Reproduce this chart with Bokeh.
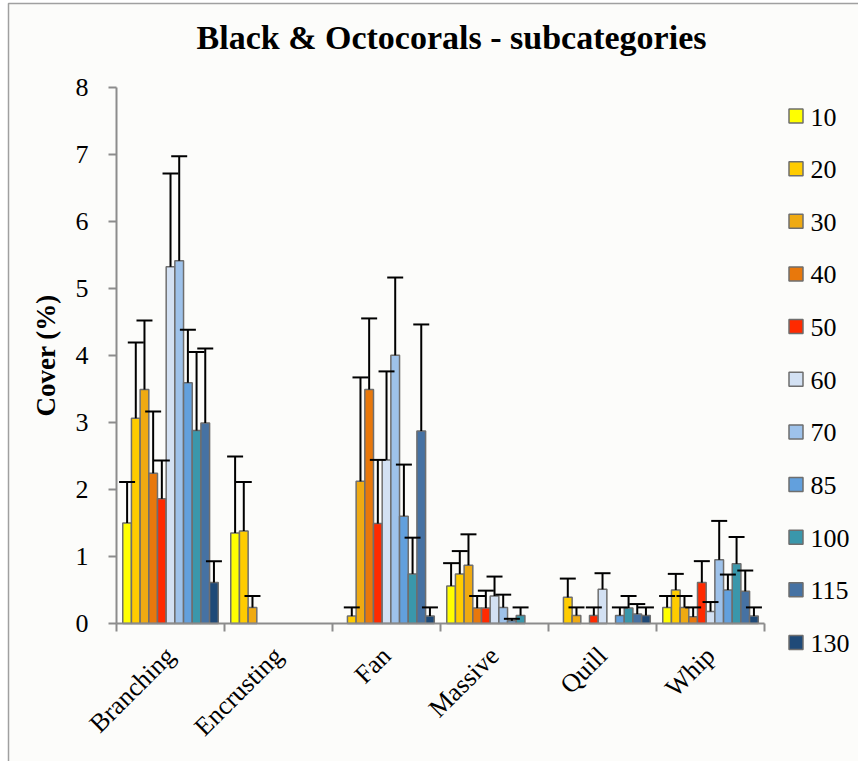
from bokeh.plotting import figure
from bokeh.models import Range1d, FixedTicker, ColumnDataSource, LinearAxis
from bokeh.core.properties import value
from bokeh.embed import file_html
from bokeh.resources import INLINE
from math import pi

# ---------------- data ----------------
categories = ["Branching", "Encrusting", "Fan", "Massive", "Quill", "Whip"]
depths = ["10", "20", "30", "40", "50", "60", "70", "85", "100", "115", "130"]

cover_10 = [1.50, 1.35, 0.00, 0.56, 0.00, 0.24]
cover_20 = [3.06, 1.38, 0.11, 0.74, 0.39, 0.50]
cover_30 = [3.49, 0.24, 2.12, 0.87, 0.12, 0.24]
cover_40 = [2.24, 0.00, 3.49, 0.23, 0.00, 0.10]
cover_50 = [1.86, 0.00, 1.49, 0.23, 0.12, 0.61]
cover_60 = [5.32, 0.00, 2.44, 0.41, 0.51, 0.18]
cover_70 = [5.41, 0.00, 4.00, 0.24, 0.00, 0.95]
cover_85 = [3.59, 0.00, 1.60, 0.04, 0.12, 0.50]
cover_100 = [2.88, 0.00, 0.74, 0.12, 0.23, 0.89]
cover_115 = [2.99, 0.00, 2.87, 0.00, 0.14, 0.48]
cover_130 = [0.61, 0.00, 0.11, 0.00, 0.12, 0.11]

err_10 = [0.61, 1.14, 0.00, 0.34, 0.00, 0.17]
err_20 = [1.13, 0.73, 0.13, 0.34, 0.28, 0.24]
err_30 = [1.03, 0.17, 1.55, 0.46, 0.12, 0.17]
err_40 = [0.92, 0.00, 1.06, 0.18, 0.00, 0.14]
err_50 = [0.57, 0.00, 0.95, 0.26, 0.12, 0.32]
err_60 = [1.39, 0.00, 1.32, 0.29, 0.24, 0.14]
err_70 = [1.56, 0.00, 1.16, 0.19, 0.00, 0.58]
err_85 = [0.79, 0.00, 0.77, 0.03, 0.12, 0.23]
err_100 = [1.17, 0.00, 0.54, 0.12, 0.18, 0.40]
err_115 = [1.11, 0.00, 1.59, 0.00, 0.15, 0.31]
err_130 = [0.32, 0.00, 0.13, 0.00, 0.12, 0.13]

colors = ["#FFFF00", "#FFCC00", "#EFAA12", "#E8780C", "#FF2A00", "#D3E1F3",
          "#9EC2EA", "#62A0DD", "#3A97AB", "#4672A3", "#1F4A78"]

y_ticks = [0, 1, 2, 3, 4, 5, 6, 7, 8]
title_text = "Black & Octocorals - subcategories"
y_label = "Cover (%)"

means = [cover_10, cover_20, cover_30, cover_40, cover_50, cover_60,
         cover_70, cover_85, cover_100, cover_115, cover_130]
errs = [err_10, err_20, err_30, err_40, err_50, err_60,
        err_70, err_85, err_100, err_115, err_130]

SERIF = "Liberation Serif"
OUTLINE = "#6e6e6e"
AXIS_COL = "#8c8c8c"

# ---------------- page geometry (pixels) ----------------
W, H = 858, 761
X0_PX, PX_PER_X = 116.0, 108.0      # x=0 position, pixels per category
Y0_PX, PX_PER_Y = 623.0, 67.05      # y=0 position, pixels per % unit


def dx(px):
    return (px - X0_PX) / PX_PER_X


def dy(py):
    return (Y0_PX - py) / PX_PER_Y


n = len(depths)
start = 0.058
bw = 0.0804
cap = 0.074

xs, tops, cols, hi = [], [], [], []
for i in range(n):
    for g in range(len(categories)):
        m = means[i][g]
        if m <= 0:
            continue
        xs.append(g + start + bw * (i + 0.5))
        tops.append(m)
        cols.append(colors[i])
        hi.append(m + errs[i][g])

src = ColumnDataSource(dict(x=xs, top=tops, color=cols, hi=hi,
                            xl=[v - cap for v in xs], xr=[v + cap for v in xs]))

p = figure(width=W, height=H,
           x_range=Range1d(dx(0), dx(W)), y_range=Range1d(dy(H), dy(0)),
           x_axis_location=None, y_axis_location=None,
           toolbar_location=None, output_backend="svg", min_border=0,
           background_fill_color="white", border_fill_color="white",
           outline_line_color=None)
p.xgrid.visible = False
p.ygrid.visible = False

# chart area border (like the spreadsheet chart frame)
p.quad(left=[dx(8)], right=[dx(W + 30)], top=[dy(3)], bottom=[dy(H + 30)],
       fill_color="#fcfcfa", line_color="#a0a0a0", line_width=1.5)

# bars and error bars
p.vbar(x="x", top="top", bottom=0, width=bw, fill_color="color",
       line_color=OUTLINE, line_width=1.5, source=src)
p.segment(x0="x", y0="top", x1="x", y1="hi", line_color="black", line_width=2, source=src)
p.segment(x0="xl", y0="hi", x1="xr", y1="hi", line_color="black", line_width=2, source=src)

# y axis
yax = LinearAxis(fixed_location=0, bounds=(0, 8))
yax.ticker = FixedTicker(ticks=y_ticks)
yax.axis_label = y_label
yax.axis_label_text_font = SERIF
yax.axis_label_text_font_size = "27px"
yax.axis_label_text_font_style = "bold"
yax.axis_label_text_color = "black"
yax.axis_label_standoff = 12
yax.major_label_text_font = SERIF
yax.major_label_text_font_size = "26px"
yax.major_label_text_color = "black"
yax.major_label_standoff = 20
yax.axis_line_color = AXIS_COL
yax.axis_line_width = 2
yax.major_tick_line_color = AXIS_COL
yax.major_tick_line_width = 2
yax.major_tick_out = 8
yax.major_tick_in = 0
yax.minor_tick_line_color = None
p.add_layout(yax, "left")

# x axis
centers = [g + 0.5 for g in range(len(categories))]
bounds = [g for g in range(len(categories) + 1)]
xax = LinearAxis(fixed_location=0, bounds=(0, len(categories)))
xax.ticker = FixedTicker(ticks=centers, minor_ticks=bounds)
xax.major_label_overrides = {c: name for c, name in zip(centers, categories)}
xax.major_label_orientation = pi / 4
xax.major_label_text_font = SERIF
xax.major_label_text_font_size = "26px"
xax.major_label_text_color = "black"
xax.major_label_standoff = 20
xax.axis_line_color = AXIS_COL
xax.axis_line_width = 2
xax.major_tick_line_color = None
xax.major_tick_out = 0
xax.major_tick_in = 0
xax.minor_tick_line_color = AXIS_COL
xax.minor_tick_line_width = 2
xax.minor_tick_out = 8
xax.minor_tick_in = 0
p.add_layout(xax, "below")

# title
p.text(x=[dx(451)], y=[dy(37)], text=[title_text],
       text_font=value(SERIF), text_font_size="34px", text_font_style="bold",
       text_align="center", text_baseline="alphabetic", text_color="black")

# legend
item_py = [115.5 + 52.65 * k for k in range(n)]
p.scatter(x=[dx(795.5)] * n, y=[dy(v) for v in item_py], marker="square", size=14,
          fill_color=colors, line_color=OUTLINE, line_width=1.5)
p.text(x=[dx(810)] * n, y=[dy(v + 1) for v in item_py], text=depths,
       text_font=value(SERIF), text_font_size="26px", text_baseline="alphabetic",
       text_color="black")

open("out.html", "w").write(file_html(p, INLINE))
